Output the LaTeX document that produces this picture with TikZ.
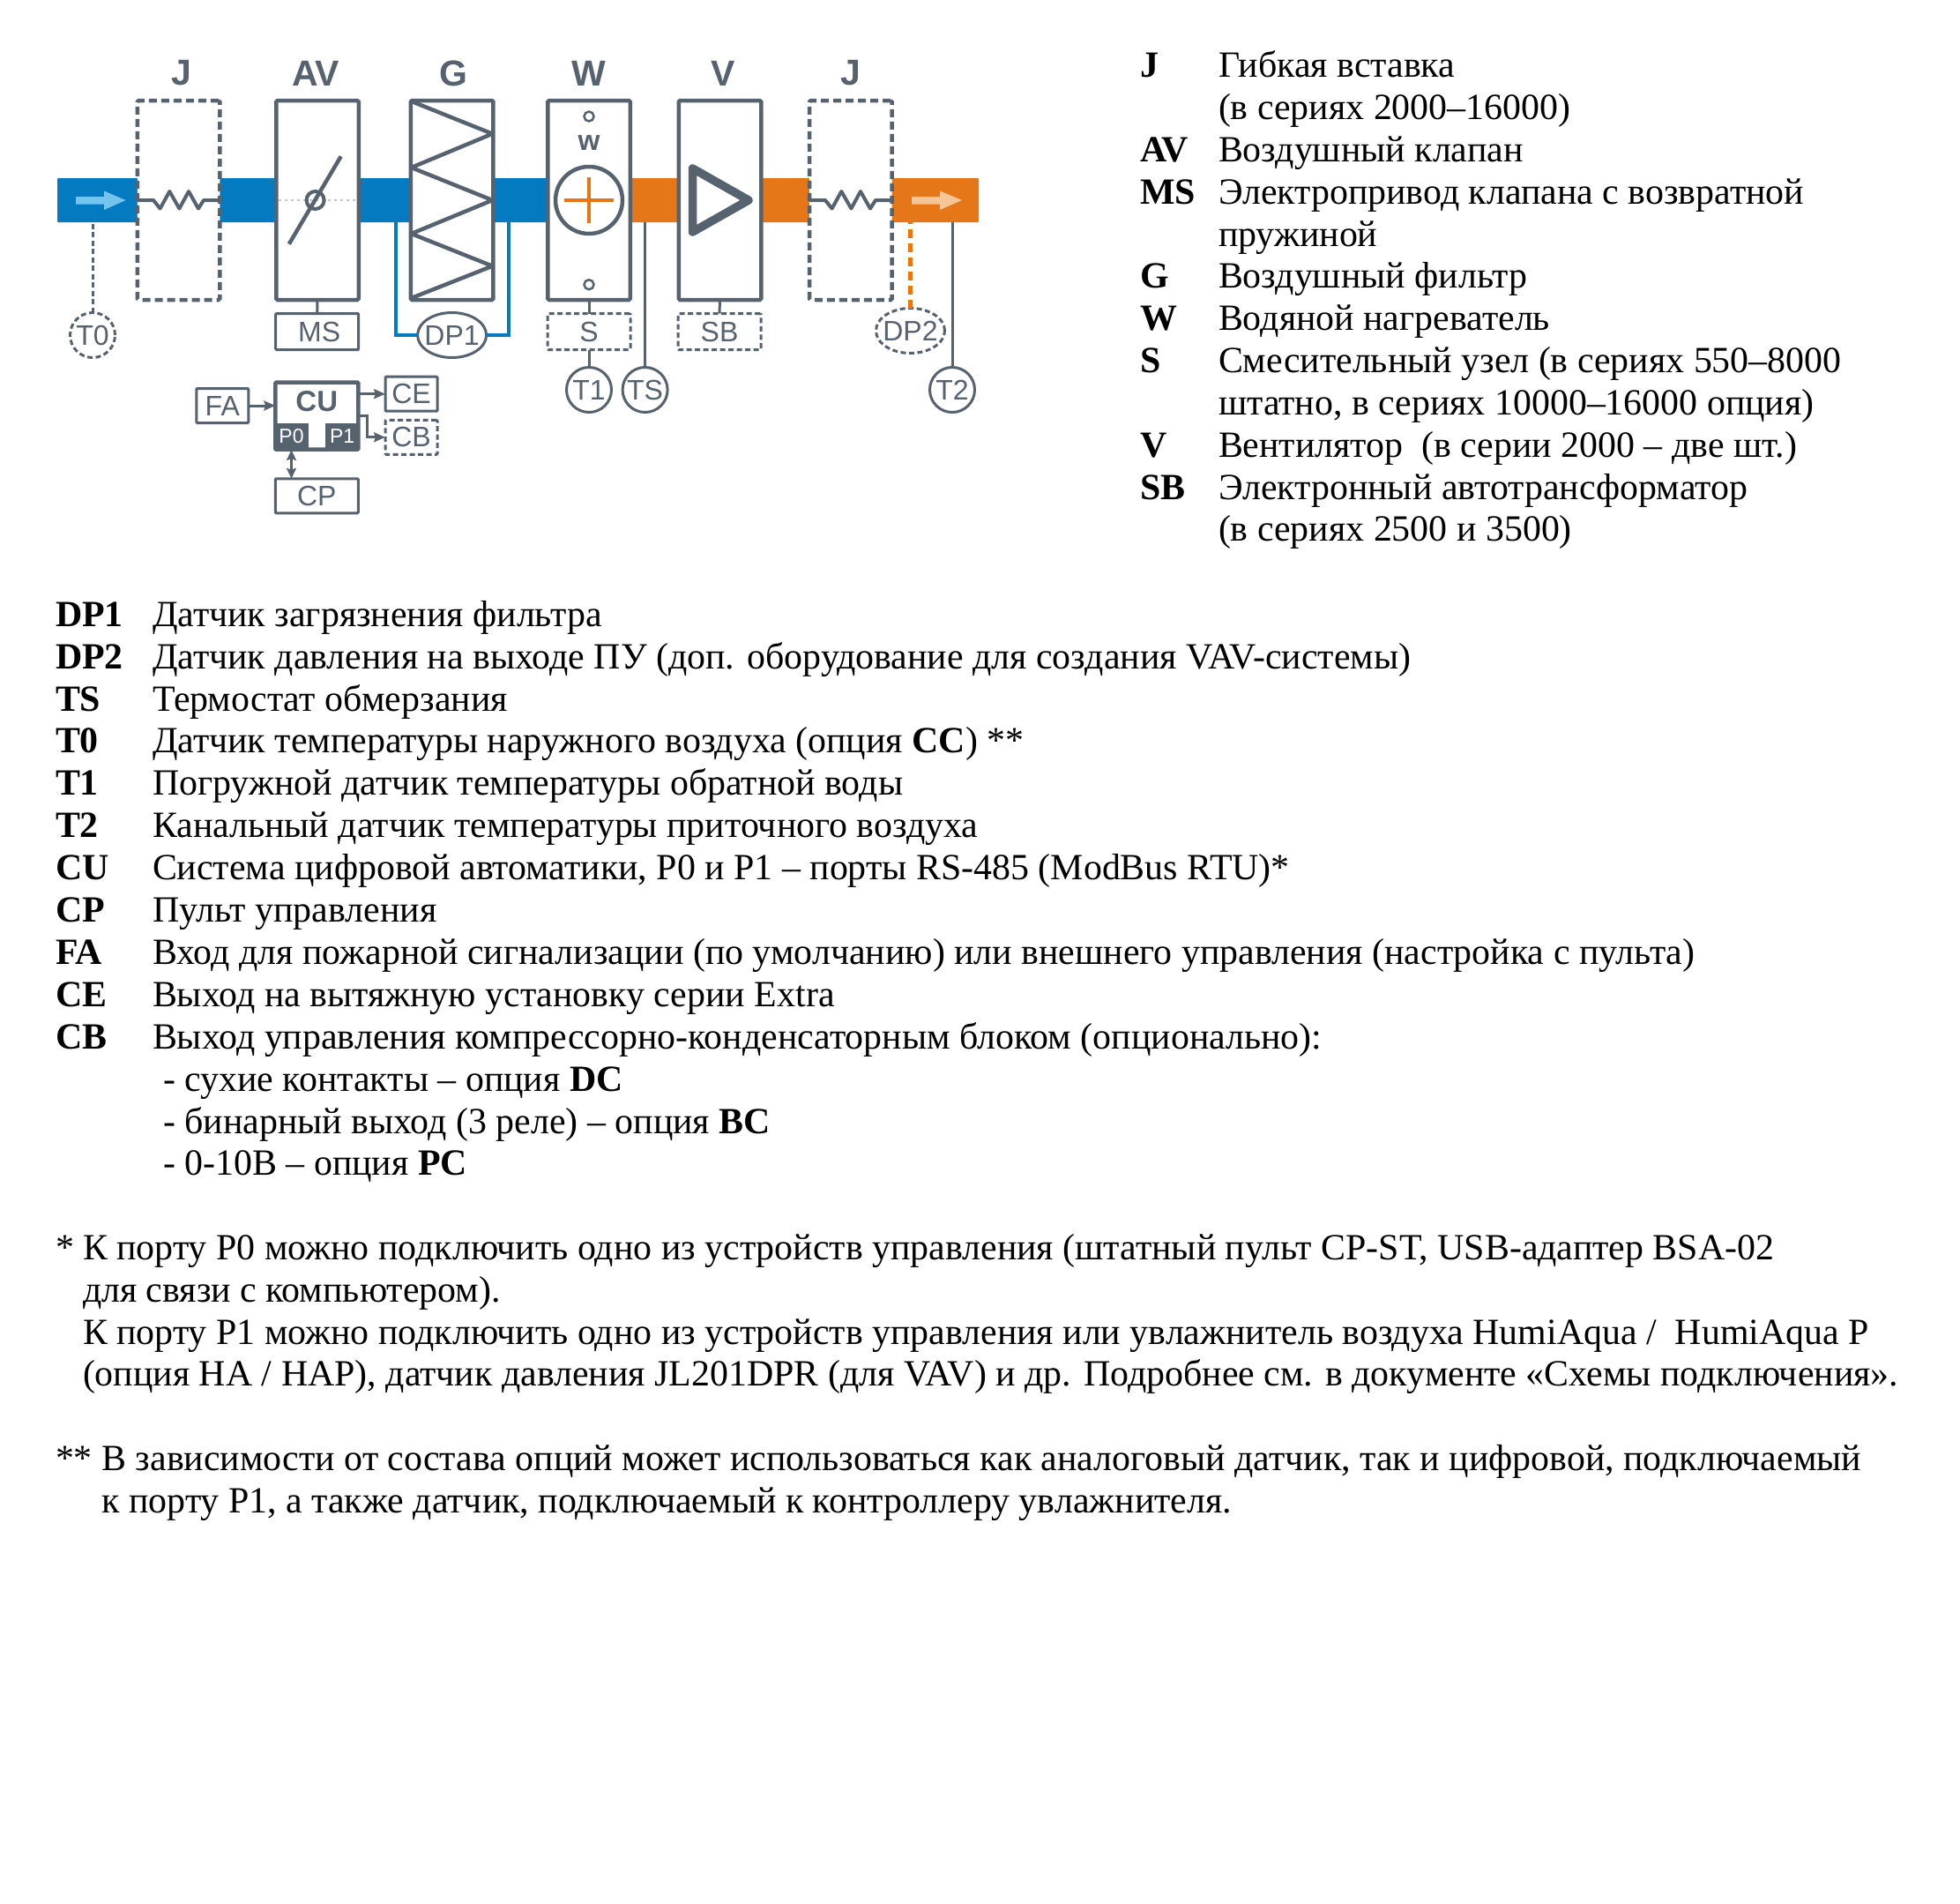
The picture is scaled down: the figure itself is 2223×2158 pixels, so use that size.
\documentclass[tikz,border=0pt]{standalone}
\usepackage{fontspec}
\setmainfont{Liberation Serif}
\newfontfamily\diagfont{Liberation Sans}
\usetikzlibrary{shapes.geometric,arrows.meta,calc}
\definecolor{slate}{HTML}{56636F}
\definecolor{ductblue}{HTML}{047BC1}
\definecolor{ductorange}{HTML}{E57718}
\definecolor{arrblue}{HTML}{75C3EF}
\definecolor{arrorange}{HTML}{F5C497}
\definecolor{dotgray}{HTML}{C4C8CC}
\tikzset{
  x=1pt,y=-1pt,
  ductseg/.style={rectangle,inner sep=0pt,outer sep=0pt,minimum height=50pt,rounded corners=1pt},
  unitbox/.style={rectangle,draw=slate,fill=white,line width=4.5pt,rounded corners=1.5pt,inner sep=0pt,outer sep=0pt,minimum width=93.5pt,minimum height=226pt},
  dashunit/.style={unitbox,dash pattern=on 9pt off 5pt},
  smallbox/.style={rectangle,draw=slate,fill=white,line width=3pt,rounded corners=1pt,inner sep=0pt,outer sep=0pt,text=slate,font=\diagfont\fontsize{32}{32}\selectfont},
  dashsmall/.style={smallbox,dash pattern=on 6pt off 3.5pt},
  sensor/.style={circle,draw=slate,fill=white,line width=3pt,inner sep=0pt,outer sep=0pt,minimum size=51pt,text=slate,font=\diagfont\fontsize{32}{32}\selectfont},
  dashsensor/.style={sensor,dash pattern=on 6pt off 3.5pt},
  oval/.style={ellipse,draw=slate,fill=white,line width=3pt,inner xsep=-6pt,inner ysep=0pt,outer sep=0pt,minimum width=78pt,minimum height=51pt,text=slate,font=\diagfont\fontsize{32}{32}\selectfont},
  title/.style={inner sep=0pt,text=slate,font=\diagfont\bfseries\fontsize{41}{41}\selectfont},
  wire/.style={draw=slate,line width=3pt},
  thick wire/.style={draw=slate,line width=4.5pt,line join=round},
  tip/.style={-{Stealth[length=13pt,width=11pt,inset=2pt]}},
  tiptwo/.style={{Stealth[length=12pt,width=11pt,inset=2pt]}-{Stealth[length=12pt,width=11pt,inset=2pt]}},
  legend/.style={anchor=base west,inner sep=0pt,outer sep=0pt,font=\fontsize{41.9}{48}\selectfont},
}
\begin{document}
\begin{tikzpicture}
\useasboundingbox (0,0) rectangle (2223,2158);
\fill[white] (0,0) rectangle (2223,2158);
% ducts
\node[ductseg,fill=ductblue,minimum width=560pt] (ductB) at (345,227) {};
\node[ductseg,fill=ductorange,minimum width=400pt] (ductO) at (910,227) {};
% arrows in the duct
\fill[arrblue] (86,223) -- (118,223) -- (118,216.5) -- (142.6,227) -- (118,238) -- (118,231.5) -- (86,231.5) -- cycle;
\fill[arrorange] (1034,223) -- (1066,223) -- (1066,216.5) -- (1091,227) -- (1066,238) -- (1066,231.5) -- (1034,231.5) -- cycle;
% sensor positions
\node[dashsensor] (T0) at (105,380) {T0};
\node[sensor] (T1) at (668,442) {T1};
\node[sensor] (TS) at (731.6,442) {TS};
\node[sensor] (T2) at (1080,442) {T2};
\node[oval] (DP1) at (512.6,380) {DP1};
\node[oval,dash pattern=on 6pt off 3.5pt] (DP2) at (1032.5,375) {DP2};
% connectors under the units
\draw[wire,dash pattern=on 6pt off 3.5pt] (T0.north) -- (T0.north |- ductB.south);
\draw[wire] (TS.north) -- (TS.north |- ductO.south);
\draw[wire] (T2.north) -- (T2.north |- ductO.south);
\draw[draw=ductorange,line width=5pt,dash pattern=on 10pt off 6pt] (DP2.north) -- (DP2.north |- ductO.south);
\coordinate (pipeL) at (448.7,380);
\coordinate (pipeR) at (577,380);
\draw[draw=ductblue,line width=4pt] (DP1.west) -- (pipeL) -- (pipeL |- ductB.south);
\draw[draw=ductblue,line width=4pt] (DP1.east) -- (pipeR) -- (pipeR |- ductB.south);
% units
\node[dashunit] (J1) at (202.5,227) {};
\node[unitbox] (AV) at (360,227) {};
\node[unitbox] (G) at (512.6,227) {};
\node[unitbox] (W) at (668,227) {};
\node[unitbox] (V) at (816.5,227) {};
\node[dashunit] (J2) at (964.8,227) {};
% titles
\node[title] (lJ1) at (205.5,83) {J};
\node[title] (lAV) at (358,83) {AV};
\node[title] (lG) at (514.5,83) {G};
\node[title] (lW) at (668,83) {W};
\node[title] (lV) at (820,83) {V};
\node[title] (lJ2) at (964.5,83) {J};
% flexible inserts
\draw[thick wire,line width=4pt] (J1.west) -- (174,227) -- (181.6,236.5) -- (192.3,217) -- (203.4,236.5) -- (214,217) -- (225,236.5) -- (231,227) -- (J1.east);
\draw[thick wire,line width=4pt] (J2.west) -- (936,227) -- (943.6,236.5) -- (954.3,217) -- (965.4,236.5) -- (976,217) -- (987,236.5) -- (993,227) -- (J2.east);
% damper
\draw[dotgray,line width=2pt,dash pattern=on 3pt off 4pt] (316,227) -- (404,227);
\node[circle,draw=slate,line width=4pt,minimum size=20pt,inner sep=0pt] (damper) at (357.6,227) {};
\draw[thick wire] (327.8,276.7) -- (386.7,177.3);
% filter
\draw[thick wire] (G.north west) ++(1,1) -- (558.5,151.7) -- (466.5,190) -- (558.5,227) -- (466.5,265) -- (558.5,301.7) -- (466.5,338);
% heater
\node[circle,draw=slate,line width=2.5pt,minimum size=11pt,inner sep=0pt] (wTop) at (668,132) {};
\node[circle,draw=slate,line width=2.5pt,minimum size=11pt,inner sep=0pt] (wBot) at (668,322.7) {};
\node[inner sep=0pt,text=slate,font=\diagfont\bfseries\fontsize{32}{32}\selectfont] (wTxt) at (668,162) {w};
\node[circle,draw=slate,fill=white,line width=4.5pt,minimum size=76pt,inner sep=0pt] (heat) at (668,227) {};
\draw[draw=ductorange,line width=4pt] (640,227) -- (696,227);
\draw[draw=ductorange,line width=4pt] (668,201) -- (668,253);
% fan
\draw[draw=slate,line width=9.5pt,line join=round] (785.5,191) -- (785.5,263) -- (849,227) -- cycle;
% small boxes
\node[smallbox,minimum width=94pt,minimum height=41pt] (MS) at (359.7,376) {\hspace{5pt}MS};
\node[dashsmall,minimum width=94pt,minimum height=41pt] (S) at (668,376) {S};
\node[dashsmall,minimum width=94pt,minimum height=41pt] (SB) at (816,376) {SB};
\draw[wire] (AV.south) -- (MS.north);
\draw[wire] (W.south) -- (S.north);
\draw[wire] (V.south) -- (SB.north);
\draw[wire] (S.south) -- (T1.north);
% control block
\node[smallbox,minimum width=59pt,minimum height=39pt] (FA) at (252.3,460) {FA};
\node[rectangle,draw=slate,fill=white,line width=4.5pt,rounded corners=1pt,inner sep=0pt,outer sep=0pt,minimum width=94pt,minimum height=76pt] (CU) at (359.3,471.7) {};
\node[rectangle,fill=slate,text=white,inner sep=0pt,outer sep=0pt,minimum width=39pt,minimum height=30pt,font=\diagfont\fontsize{23}{23}\selectfont] (P0) at (330.5,495) {P0};
\node[rectangle,fill=slate,text=white,inner sep=0pt,outer sep=0pt,minimum width=39pt,minimum height=30pt,font=\diagfont\fontsize{23}{23}\selectfont] (P1) at (388.2,495) {P1};
\node[inner sep=0pt,text=slate,font=\diagfont\bfseries\fontsize{33}{33}\selectfont] (CUt) at (359.3,455) {CU};
\node[smallbox,minimum width=59pt,minimum height=39pt] (CE) at (466.5,446.7) {CE};
\node[dashsmall,minimum width=59pt,minimum height=39pt] (CB) at (466.5,495.8) {CB};
\node[smallbox,minimum width=94pt,minimum height=39pt] (CP) at (359.3,562.3) {CP};
\draw[wire,tip] (FA.east) -- (FA.east -| CU.west);
\draw[wire,tip] (CE.west -| CU.east) -- (CE.west);
\draw[wire,tip] (CU.east) -- ++(10,0) |- (CB.west);
\draw[wire,tiptwo] (CP.north -| P0.south) -- (P0.south);
% legend right
\begin{scope}[every node/.style={legend}]
\node (a1) at (1293,87.5) {\textbf{J}};
\node (a2) at (1382,87.5) {Гибкая вставка};
\node (a3) at (1382,135.5) {(в сериях 2000–16000)};
\node (a4) at (1293,183.5) {\textbf{AV}};
\node (a5) at (1382,183.5) {Воздушный клапан};
\node (a6) at (1293,231) {\textbf{MS}};
\node (a7) at (1382,231) {Электропривод клапана с возвратной};
\node (a8) at (1382,279) {пружиной};
\node (a9) at (1293,326.8) {\textbf{G}};
\node (a10) at (1382,326.8) {Воздушный фильтр};
\node (a11) at (1293,374.5) {\textbf{W}};
\node (a12) at (1382,374.5) {Водяной нагреватель};
\node (a13) at (1293,422.5) {\textbf{S}};
\node (a14) at (1382,422.5) {Смесительный узел (в сериях 550–8000};
\node (a15) at (1382,470.5) {штатно, в сериях 10000–16000 опция)};
\node (a16) at (1293,518.2) {\textbf{V}};
\node (a17) at (1382,518.2) {Вентилятор\ \ (в серии 2000 – две шт.)};
\node (a18) at (1293,566) {\textbf{SB}};
\node (a19) at (1382,566) {Электронный автотрансформатор};
\node (a20) at (1382,613.6) {(в сериях 2500 и 3500)};
% legend left
\node (b1) at (63,710) {\textbf{DP1}};
\node (b2) at (173,710) {Датчик загрязнения фильтра};
\node (b3) at (63,758) {\textbf{DP2}};
\node (b4) at (173,758) {Датчик давления на выходе ПУ (доп. оборудование для создания VAV-системы)};
\node (b5) at (63,806) {\textbf{TS}};
\node (b6) at (173,806) {Термостат обмерзания};
\node (b7) at (63,853.5) {\textbf{T0}};
\node (b8) at (173,853.5) {Датчик температуры наружного воздуха (опция \textbf{CC}) **};
\node (b9) at (63,901.5) {\textbf{T1}};
\node (b10) at (173,901.5) {Погружной датчик температуры обратной воды};
\node (b11) at (63,949.5) {\textbf{T2}};
\node (b12) at (173,949.5) {Канальный датчик температуры приточного воздуха};
\node (b13) at (63,997.4) {\textbf{CU}};
\node (b14) at (173,997.4) {Система цифровой автоматики, P0 и P1 – порты RS-485 (ModBus RTU)*};
\node (b15) at (63,1045.3) {\textbf{CP}};
\node (b16) at (173,1045.3) {Пульт управления};
\node (b17) at (63,1093.2) {\textbf{FA}};
\node (b18) at (173,1093.2) {Вход для пожарной сигнализации (по умолчанию) или внешнего управления (настройка с пульта)};
\node (b19) at (63,1141) {\textbf{CE}};
\node (b20) at (173,1141) {Выход на вытяжную установку серии Extra};
\node (b21) at (63,1189) {\textbf{CB}};
\node (b22) at (173,1189) {Выход управления компрессорно-конденсаторным блоком (опционально):};
\node (b23) at (185,1237) {- сухие контакты – опция \textbf{DC}};
\node (b24) at (185,1285) {- бинарный выход (3 реле) – опция \textbf{BC}};
\node (b25) at (185,1332.7) {- 0-10В – опция \textbf{PC}};
% notes
\node (c1) at (63,1428) {*};
\node (c2) at (94,1428) {К порту P0 можно подключить одно из устройств управления (штатный пульт CP-ST, USB-адаптер BSA-02};
\node (c3) at (94,1476) {для связи с компьютером).};
\node (c4) at (94,1524) {К порту P1 можно подключить одно из устройств управления или увлажнитель воздуха HumiAqua /\ \ HumiAqua P};
\node (c5) at (94,1571.5) {(опция HA / HAP), датчик давления JL201DPR (для VAV) и др. Подробнее см. в документе «Схемы подключения».};
\node (c6) at (63,1667.5) {**};
\node (c7) at (115.5,1667.5) {В зависимости от состава опций может использоваться как аналоговый датчик, так и цифровой, подключаемый};
\node (c8) at (115.5,1715.5) {к порту P1, а также датчик, подключаемый к контроллеру увлажнителя.};
\end{scope}
\end{tikzpicture}
\end{document}
